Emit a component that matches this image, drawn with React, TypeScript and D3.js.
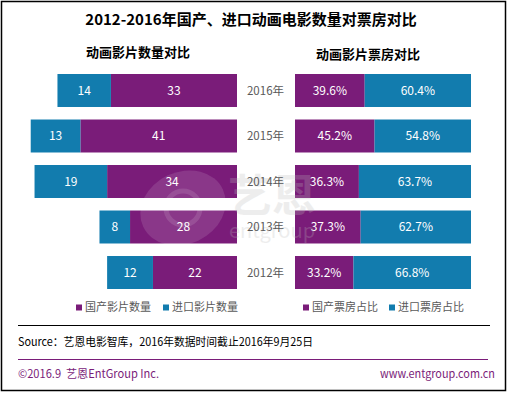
import React, { useRef, useEffect } from 'react'
import * as d3 from 'd3'

const years = ['2016', '2015', '2014', '2013', '2012']
const domesticCount = [33, 41, 34, 28, 22]
const importCount = [14, 13, 19, 8, 12]
const domesticShare = [39.6, 45.2, 36.3, 37.3, 33.2]
const importShare = [60.4, 54.8, 63.7, 62.7, 66.8]

const PURPLE = '#7A1C79'
const BLUE = '#127CAE'
const GRAY = '#595959'
const FONT = '"Microsoft YaHei", "Noto Sans CJK SC", "Noto Sans", sans-serif'

export default function App() {
  const svgRef = useRef<SVGSVGElement>(null)

  useEffect(() => {
    const svg = d3.select(svgRef.current)
    svg.selectAll('*').remove()
    const width = 507, height = 393
    svg.attr('width', width).attr('height', height).style('font-family', FONT)

    svg.append('rect').attr('x', 1.5).attr('y', 1.5).attr('width', 504).attr('height', 389)
      .attr('fill', '#fff').attr('stroke', '#000').attr('stroke-width', 1.5)

    svg.append('text').attr('x', 251).attr('y', 25).attr('text-anchor', 'middle')
      .attr('font-size', '15px').attr('font-weight', 'bold').attr('fill', '#000')
      .text('2012-2016年国产、进口动画电影数量对票房对比')

    svg.append('text').attr('x', 138).attr('y', 57).attr('text-anchor', 'middle')
      .attr('font-size', '13px').attr('font-weight', 'bold').attr('fill', '#000')
      .text('动画影片数量对比')
    svg.append('text').attr('x', 368).attr('y', 59).attr('text-anchor', 'middle')
      .attr('font-size', '13px').attr('font-weight', 'bold').attr('fill', '#000')
      .text('动画影片票房对比')

    const y = d3.scaleBand().domain(years).range([74, 289]).paddingInner(0.275).paddingOuter(0)
    const bw = y.bandwidth()

    // watermark (drawn under the year labels, over the bars below)
    const drawWatermark = () => {
      const wm = svg.append('g').attr('pointer-events', 'none')
      wm.append('ellipse').attr('cx', 183).attr('cy', 208).attr('rx', 44).attr('ry', 36)
        .attr('transform', 'rotate(-25,183,208)').attr('fill', '#fff').attr('opacity', 0.12)
      wm.append('circle').attr('cx', 183).attr('cy', 208).attr('r', 17)
        .attr('fill', 'none').attr('stroke', '#fff').attr('stroke-width', 5).attr('opacity', 0.12)
      wm.append('text').attr('x', 272).attr('y', 212).attr('text-anchor', 'middle')
        .attr('font-size', '44px').attr('font-weight', 'bold').attr('fill', '#bbb').attr('opacity', 0.25).text('艺恩')
      wm.append('text').attr('x', 272).attr('y', 238).attr('text-anchor', 'middle')
        .attr('font-size', '20px').attr('fill', '#bbb').attr('opacity', 0.25).text('entgroup')
    }

    // left: counts, growing leftwards from x=237
    const xl = d3.scaleLinear().domain([0, 60]).range([237, 237 - 60 * 3.82])
    const left = svg.append('g')
    years.forEach((yr, i) => {
      const d = domesticCount[i], m = importCount[i]
      left.append('rect').attr('x', xl(d)).attr('y', y(yr)!).attr('width', xl(0) - xl(d)).attr('height', bw).attr('fill', PURPLE)
      left.append('rect').attr('x', xl(d + m)).attr('y', y(yr)!).attr('width', xl(d) - xl(d + m)).attr('height', bw).attr('fill', BLUE)
    })

    // right: 100% stacked shares
    const xr = d3.scaleLinear().domain([0, 100]).range([295, 471])
    const right = svg.append('g')
    years.forEach((yr, i) => {
      const d = domesticShare[i], m = importShare[i]
      right.append('rect').attr('x', xr(0)).attr('y', y(yr)!).attr('width', xr(d) - xr(0)).attr('height', bw).attr('fill', PURPLE)
      right.append('rect').attr('x', xr(d)).attr('y', y(yr)!).attr('width', xr(d + m) - xr(d)).attr('height', bw).attr('fill', BLUE)
    })

    drawWatermark()

    // value labels
    years.forEach((yr, i) => {
      const d = domesticCount[i], m = importCount[i]
      left.append('text').attr('x', (xl(0) + xl(d)) / 2).attr('y', y(yr)! + bw / 2).attr('dy', '0.35em')
        .attr('text-anchor', 'middle').attr('font-size', '12px').attr('fill', '#fff').text(d)
      left.append('text').attr('x', (xl(d) + xl(d + m)) / 2).attr('y', y(yr)! + bw / 2).attr('dy', '0.35em')
        .attr('text-anchor', 'middle').attr('font-size', '12px').attr('fill', '#fff').text(m)
      const ds = domesticShare[i], ms = importShare[i]
      right.append('text').attr('x', (xr(0) + xr(ds)) / 2).attr('y', y(yr)! + bw / 2).attr('dy', '0.35em')
        .attr('text-anchor', 'middle').attr('font-size', '12px').attr('fill', '#fff').text(ds.toFixed(1) + '%')
      right.append('text').attr('x', (xr(ds) + xr(ds + ms)) / 2).attr('y', y(yr)! + bw / 2).attr('dy', '0.35em')
        .attr('text-anchor', 'middle').attr('font-size', '12px').attr('fill', '#fff').text(ms.toFixed(1) + '%')
    })

    // year labels
    years.forEach(yr => {
      svg.append('text').attr('x', 265.5).attr('y', y(yr)! + bw / 2).attr('dy', '0.35em')
        .attr('text-anchor', 'middle').attr('font-size', '11.5px').attr('fill', GRAY).text(yr + '年')
    })

    // legends
    const legend = (g: any, x: number, color: string, label: string) => {
      g.append('rect').attr('x', x).attr('y', 304.5).attr('width', 6).attr('height', 6).attr('fill', color)
      g.append('text').attr('x', x + 9).attr('y', 307.5).attr('dy', '0.35em')
        .attr('font-size', '11px').attr('fill', GRAY).text(label)
    }
    legend(svg, 76, PURPLE, '国产影片数量')
    legend(svg, 163, BLUE, '进口影片数量')
    legend(svg, 303, PURPLE, '国产票房占比')
    legend(svg, 389, BLUE, '进口票房占比')

    // footer
    svg.append('line').attr('x1', 18).attr('x2', 490).attr('y1', 325.5).attr('y2', 325.5).attr('stroke', '#000')
    svg.append('text').attr('x', 18).attr('y', 346).attr('font-size', '11.5px').attr('fill', '#000')
      .attr('textLength', 295).attr('lengthAdjust', 'spacingAndGlyphs')
      .text('Source：艺恩电影智库，2016年数据时间截止2016年9月25日')
    svg.append('line').attr('x1', 18).attr('x2', 488).attr('y1', 359.5).attr('y2', 359.5).attr('stroke', PURPLE)
    svg.append('text').attr('x', 18).attr('y', 378).attr('font-size', '11.5px').attr('fill', PURPLE)
      .attr('xml:space', 'preserve').attr('textLength', 141).attr('lengthAdjust', 'spacingAndGlyphs')
      .text('©2016.9  艺恩EntGroup Inc.')
    svg.append('text').attr('x', 380).attr('y', 378).attr('font-size', '11.5px').attr('fill', PURPLE)
      .attr('textLength', 115).attr('lengthAdjust', 'spacingAndGlyphs')
      .text('www.entgroup.com.cn')
  }, [])

  return <svg ref={svgRef} style={{ position: 'absolute', left: 0, top: 0, display: 'block' }} />
}
